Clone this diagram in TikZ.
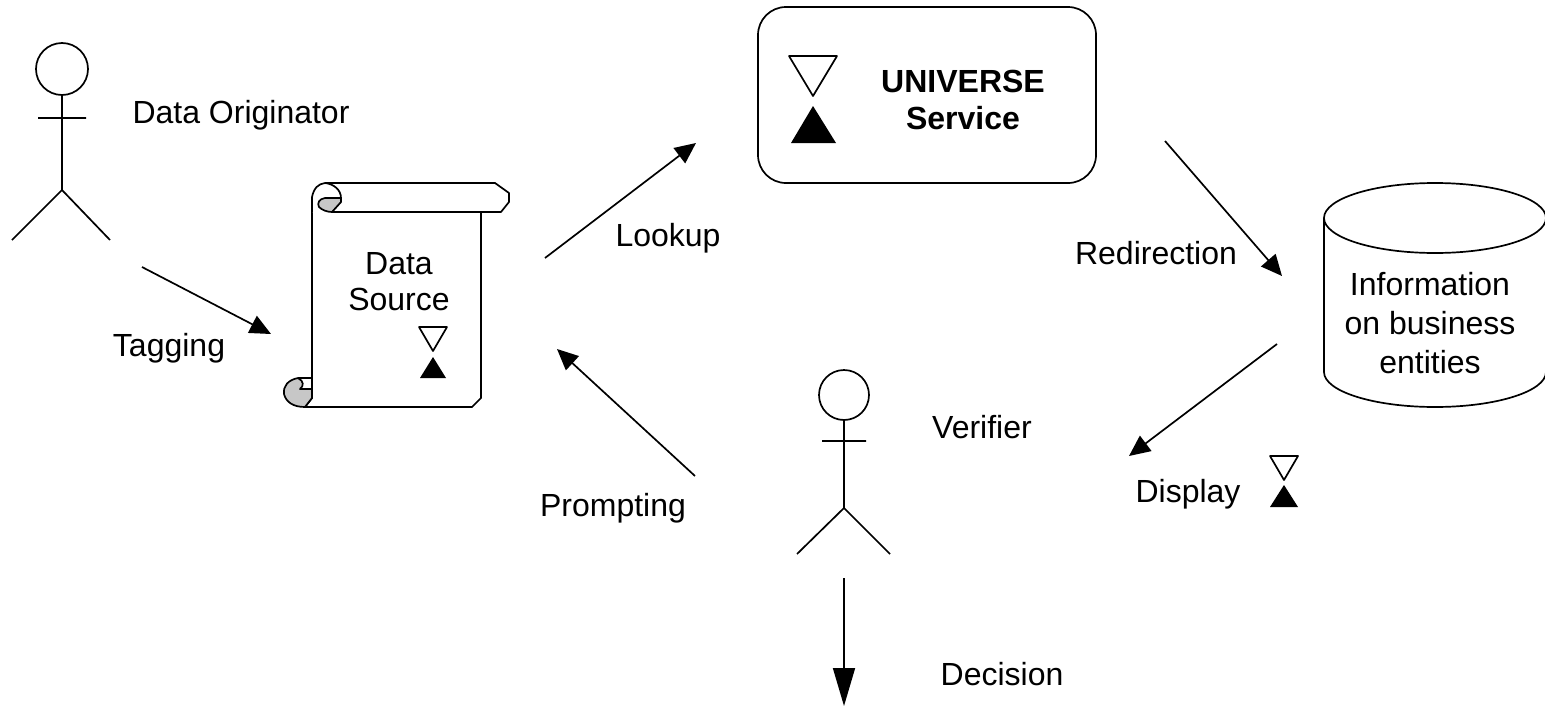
\documentclass[tikz,border=0pt]{standalone}
\usepackage{fontspec}
\setmainfont{Liberation Sans}
\usetikzlibrary{arrows.meta}
\tikzset{
  ln/.style={draw=black,line width=1.7pt,line join=round},
  conn/.style={black,line width=1.7pt,-{Triangle[length=21pt,width=19pt]}},
  bigconn/.style={black,line width=1.7pt,-{Triangle[length=38pt,width=22pt]}},
  lbl/.style={inner sep=0pt,font=\fontsize{32}{39}\selectfont,align=center},
  blbl/.style={inner sep=0pt,align=center,font=\fontsize{32}{39}\selectfont\bfseries},
}
\begin{document}
\begin{tikzpicture}[x=1pt,y=-1pt]
\useasboundingbox (0,0) rectangle (1545,707);
% actors
\draw[ln] (62,69) circle[radius=26];
\draw[ln] (62,95)--(62,190) (38,118)--(86,118) (12,240)--(62,190)--(110,240);
\draw[ln] (844,395) circle[radius=25];
\draw[ln] (844,420)--(844,508) (822,441)--(866,441) (797,554)--(844,508)--(890,554);
% scroll
\draw[ln,fill=white] (312,212)--(312,398)--(305,407)--(472,407)--(481,398)--(481,212);
\draw[ln,fill=white] (312,212)--(312,197) .. controls (314,188) and (318,184) .. (325,183)
  --(495,183)--(509,193)--(509,202)--(501,212)--(332,212);
\draw[ln,fill=black!22] (341,198)--(325,198) .. controls (319,199) and (317,203) .. (319,207)
  .. controls (322,210) and (327,212) .. (332,212)--(341,202)--cycle;
\draw[ln] (325,183) .. controls (334,184) and (341,190) .. (341,198)--(341,202);
\draw[ln,fill=black!22] (298,378) .. controls (288,380) and (283,386) .. (284,394)
  .. controls (286,402) and (293,407) .. (305,407)--(312,398)--(312,389)--(300,389)
  .. controls (304,386) and (304,381) .. (298,378);
\draw[ln] (298,378)--(312,378)--(312,389);
\node[lbl] (ds) at (399,282) {Data\\[-3pt]Source};
\draw[ln] (419,327)--(447,327)--(433,351)--cycle;
\fill (433,357)--(446,378)--(420,378)--cycle;
% universe
\node[ln,rounded corners=28pt,minimum width=338pt,minimum height=176pt,inner sep=0pt] (uni) at (927,95) {};
\draw[ln] (789,56)--(837,56)--(813,96)--cycle;
\fill (813,106)--(836,143)--(791,143)--cycle;
\node[blbl] (unit) at (963,81) {UNIVERSE};
\node[blbl] (serv) at (963,118) {Service};
% cylinder
\draw[ln] (1324,218) arc[start angle=180,end angle=-180,x radius=111,y radius=35];
\draw[ln] (1324,218)--(1324,372) arc[start angle=180,end angle=0,x radius=111,y radius=35]--(1546,218);
\node[lbl] (info) at (1430,323) {Information\\on business\\entities};
% small hourglass
\draw[ln] (1270,456)--(1298,456)--(1284,480)--cycle;
\fill (1284,485)--(1298,507)--(1270,507)--cycle;
% labels
\node[lbl] (orig) at (241,115) {Data Originator};
\node[lbl] (tag) at (169,348) {Tagging};
\node[lbl] (look) at (668,238) {Lookup};
\node[lbl] (redir) at (1156,253) {Redirection};
\node[lbl] (prompt) at (613,508) {Prompting};
\node[lbl] (verif) at (982,427) {Verifier};
\node[lbl] (disp) at (1188,494) {Display};
\node[lbl] (deci) at (1002,674) {Decision};
% connectors
\coordinate (t1) at (142,267); \coordinate (t2) at (271,334);
\coordinate (l1) at (545,258); \coordinate (l2) at (696,143);
\coordinate (r1) at (1165,141); \coordinate (r2) at (1282,276);
\coordinate (d1) at (1277,344); \coordinate (d2) at (1129,456);
\coordinate (p1) at (695,476); \coordinate (p2) at (557,349);
\coordinate (e1) at (844,578); \coordinate (e2) at (844,706);
\draw[conn] (t1)--(t2);
\draw[conn] (l1)--(l2);
\draw[conn] (r1)--(r2);
\draw[conn] (d1)--(d2);
\draw[conn] (p1)--(p2);
\draw[bigconn] (e1)--(e2);
\end{tikzpicture}
\end{document}
